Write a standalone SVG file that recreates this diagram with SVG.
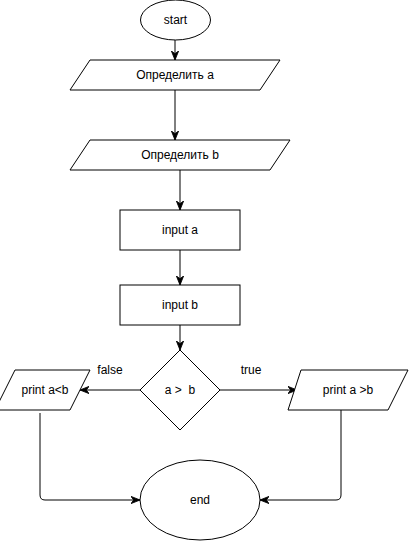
<svg xmlns="http://www.w3.org/2000/svg" width="409" height="541" viewBox="0 0 409 541">
<defs>
<marker id="arr" viewBox="0 0 10 10" markerWidth="9" markerHeight="9" refX="10" refY="5" orient="auto" markerUnits="userSpaceOnUse">
<path d="M0,1 L10,5 L0,9 L3,5 z" fill="#000" stroke="#000" stroke-width="1"/>
</marker>
<style>
.s{fill:#fff;stroke:#000;stroke-width:1}
.t{font-family:"Liberation Sans",Arial,sans-serif;font-size:12px;fill:#000;text-anchor:middle;dominant-baseline:central}
.e{fill:none;stroke:#000;stroke-width:1;marker-end:url(#arr)}
</style>
</defs>
<rect width="409" height="541" fill="#fff"/>
<g id="connectors">
<path class="e" d="M175,40 L175,60"/>
<path class="e" d="M175,90 L175,140"/>
<path class="e" d="M180,170 L180,210"/>
<path class="e" d="M180,250 L180,285"/>
<path class="e" d="M180,325 L180,350"/>
<path class="e" d="M140,390 L80,390"/>
<path class="e" d="M220,390 L297,390"/>
<path class="e" d="M40,413 L40,495 Q40,500 45,500 L140,500"/>
<path class="e" d="M341,410 L341,495 Q341,500 336,500 L260,500"/>
<text class="t" x="110" y="370">false</text>
<text class="t" x="251" y="370">true</text>
</g>
<g id="start"><ellipse class="s" cx="175.5" cy="20" rx="35" ry="20"/><text class="t" x="175.5" y="20">start</text></g>
<g id="defA"><polygon class="s" points="90,60 280,60 260,90 70,90"/><text class="t" x="175" y="75">Определить a</text></g>
<g id="defB"><polygon class="s" points="90,140 290,140 270,170 70,170"/><text class="t" x="180" y="155">Определить b</text></g>
<g id="inputA"><rect class="s" x="120" y="210" width="120" height="40"/><text class="t" x="180" y="230">input a</text></g>
<g id="inputB"><rect class="s" x="120" y="285" width="120" height="40"/><text class="t" x="180" y="305">input b</text></g>
<g id="cond"><polygon class="s" points="180,350 220,390 180,430 140,390"/><text class="t" x="180" y="390" xml:space="preserve">a &gt;  b</text></g>
<g id="printLess"><polygon class="s" points="15,370 90,370 70,410 -5,410"/><text class="t" x="45" y="390">print a&lt;b</text></g>
<g id="printGreater"><polygon class="s" points="301,370 408,370 388,410 288,410"/><text class="t" x="348" y="390">print a &gt;b</text></g>
<g id="end"><ellipse class="s" cx="200" cy="500" rx="60" ry="40"/><text class="t" x="200" y="500">end</text></g>
</svg>
